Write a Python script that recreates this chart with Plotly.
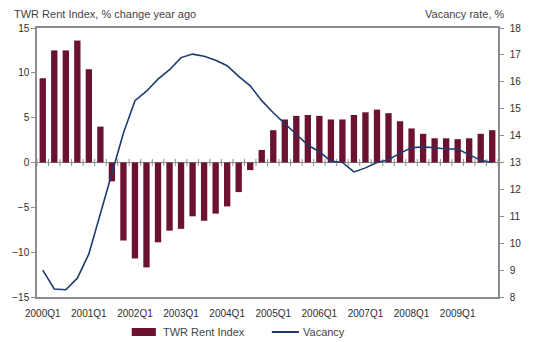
import plotly.graph_objects as go

# Quarterly periods, 2000Q1 .. 2009Q4
quarters = [f"{y}Q{q}" for y in range(2000, 2010) for q in range(1, 5)]

# TWR Rent Index, % change year ago
rent_index = [
    9.4, 12.5, 12.5, 13.6, 10.4, 4.0, -2.1, -8.7, -10.7, -11.7,
    -8.9, -7.6, -7.4, -6.0, -6.5, -5.7, -4.9, -3.3, -0.85, 1.4,
    3.6, 4.8, 5.2, 5.3, 5.2, 4.8, 4.8, 5.3, 5.6, 5.9,
    5.5, 4.6, 3.8, 3.2, 2.7, 2.7, 2.6, 2.7, 3.2, 3.6,
]

# Vacancy rate, %
vacancy = [
    9.0, 8.3, 8.27, 8.7, 9.6, 11.1, 12.7, 14.1, 15.3, 15.65,
    16.1, 16.45, 16.9, 17.03, 16.95, 16.8, 16.6, 16.2, 15.85, 15.3,
    14.85, 14.45, 14.05, 13.65, 13.4, 13.05, 13.0, 12.65, 12.8, 13.0,
    13.1, 13.35, 13.55, 13.58, 13.55, 13.5, 13.5, 13.3, 13.08, 13.0,
]

left_ticks = [-15, -10, -5, 0, 5, 10, 15]
right_ticks = list(range(8, 19))

BAR = "#6a1230"
LINE = "#1f3a6e"
AXIS = "#8c8c8c"
TXT = "#2e2e2e"
FONT = "Liberation Sans, Arial, sans-serif"

xs = list(range(len(quarters)))
label_idx = [i for i, q in enumerate(quarters) if q.endswith("Q1")]

fig = go.Figure()

fig.add_trace(go.Bar(
    x=xs, y=rent_index, name="TWR Rent Index",
    marker=dict(color=BAR, line=dict(width=0)),
    width=0.55, showlegend=False, hoverinfo="skip",
))

# small category tick marks along the zero line
fig.add_trace(go.Scatter(
    x=[i - 0.5 for i in range(len(quarters) + 1)], y=[0] * (len(quarters) + 1),
    mode="markers", marker=dict(symbol="line-ns-open", size=5, color=AXIS,
                                line=dict(color=AXIS, width=1)),
    showlegend=False, hoverinfo="skip",
))

fig.add_trace(go.Scatter(
    x=xs, y=vacancy, name="Vacancy", yaxis="y2", mode="lines",
    line=dict(color=LINE, width=1.6), showlegend=False, hoverinfo="skip",
))

fig.update_layout(
    width=533, height=342,
    margin=dict(l=34, r=22, t=28, b=45),
    paper_bgcolor="white", plot_bgcolor="white",
    font=dict(family=FONT, size=10, color=TXT),
    bargap=0.45,
    xaxis=dict(
        range=[-0.5, len(quarters) - 0.5],
        tickmode="array",
        tickvals=label_idx,
        ticktext=[quarters[i] for i in label_idx],
        tickfont=dict(size=10, color=TXT),
        ticklabelstandoff=6,
        showgrid=False, zeroline=False,
        showline=True, linecolor=AXIS, linewidth=1.5, mirror=True,
        ticks="",
    ),
    yaxis=dict(
        range=[-15, 15], tickmode="array", tickvals=left_ticks,
        showgrid=False, zeroline=True, zerolinecolor=AXIS, zerolinewidth=1.2,
        showline=True, linecolor=AXIS, linewidth=1.5,
        ticks="outside", ticklen=4, tickcolor=AXIS,
        tickfont=dict(size=10, color=TXT),
    ),
    yaxis2=dict(
        range=[8, 18], tickmode="array", tickvals=right_ticks,
        overlaying="y", side="right",
        showgrid=False, zeroline=False,
        showline=True, linecolor=AXIS, linewidth=1.5,
        ticks="outside", ticklen=4, tickcolor=AXIS,
        ticklabelstandoff=4,
        tickfont=dict(size=10, color=TXT),
    ),
)

# axis titles placed above each axis
fig.add_annotation(text="TWR Rent Index, % change year ago",
                   xref="paper", yref="paper", x=-0.055, y=1.052,
                   xanchor="left", yanchor="middle", showarrow=False,
                   font=dict(size=11, color="#444444"))
fig.add_annotation(text="Vacancy rate, %",
                   xref="paper", yref="paper", x=1.017, y=1.052,
                   xanchor="right", yanchor="middle", showarrow=False,
                   font=dict(size=11, color="#444444"))

# legend drawn below the plot area
W, H = 477.0, 269.0
def px(xp):
    return (xp - 34) / W
def py(yp):
    return (297 - yp) / H

fig.add_shape(type="rect", xref="paper", yref="paper",
              x0=px(132), x1=px(157), y0=py(336), y1=py(328),
              fillcolor=BAR, line=dict(width=0))
fig.add_annotation(text="TWR Rent Index", xref="paper", yref="paper",
                   x=px(162), y=py(332), xanchor="left", yanchor="middle",
                   showarrow=False, font=dict(size=11, color="#444444"))
fig.add_shape(type="line", xref="paper", yref="paper",
              x0=px(277), x1=px(305), y0=py(332), y1=py(332),
              line=dict(color=LINE, width=2))
fig.add_annotation(text="Vacancy", xref="paper", yref="paper",
                   x=px(307), y=py(332), xanchor="left", yanchor="middle",
                   showarrow=False, font=dict(size=11, color="#444444"))

fig.write_html("out.html")
